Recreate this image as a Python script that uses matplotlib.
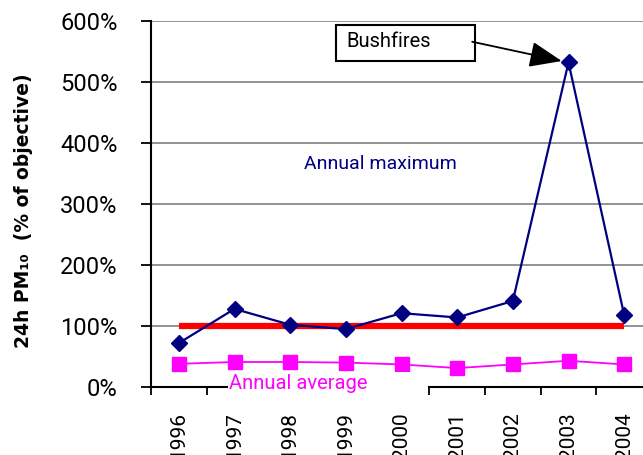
import matplotlib.pyplot as plt
from matplotlib.patches import Rectangle

years = ["1996", "1997", "1998", "1999", "2000", "2001", "2002", "2003", "2004"]
annual_max = [72, 128, 102, 95, 121, 114, 141, 532, 118]
annual_avg = [38, 41, 41, 40, 37, 31, 37, 43, 37]
objective = [100, 100, 100, 100, 100, 100, 100, 100, 100]
yticks = [0, 100, 200, 300, 400, 500, 600]

plt.rcParams["font.family"] = ["Roboto", "DejaVu Sans"]

fig = plt.figure(figsize=(6.43, 4.55), dpi=100)
# plot area runs past the right edge of the figure
ax = fig.add_axes([151 / 643, 68 / 455, 501 / 643, 366 / 455])

x = list(range(len(years)))

ax.plot(x, objective, color="#ff0000", linewidth=4.5, solid_capstyle="butt", zorder=3)
ax.plot(x, annual_max, color="#000080", linewidth=1.6, marker="D",
        markersize=8.5, zorder=4)
ax.plot(x, annual_avg, color="#ff00ff", linewidth=1.3, marker="s",
        markersize=9.5, zorder=4)

ax.set_xlim(-0.5, len(years) - 0.5)
ax.set_ylim(0, 600)

ax.set_yticks(yticks)
ax.set_yticklabels([f"{v}%" for v in yticks])
ax.yaxis.grid(True, color="#808080", linewidth=1.2)
ax.set_axisbelow(True)

ax.set_xticks(x)
ax.set_xticklabels(years, rotation=90)
ax.set_xticks([i - 0.5 for i in range(len(years) + 1)], minor=True)
ax.tick_params(axis="x", which="major", length=0, pad=18, labelsize=15)
ax.tick_params(axis="x", which="minor", length=6, width=1.3, direction="out")
ax.tick_params(axis="y", length=7, width=1.3, pad=17, labelsize=17)

for side in ["top", "right"]:
    ax.spines[side].set_visible(False)
ax.spines["left"].set_linewidth(1.5)
ax.spines["bottom"].set_linewidth(1.5)

# series labels
ax.text(3.63, 366, "Annual maximum", color="#000080", fontsize=14,
        ha="center", va="center")
ax.add_patch(Rectangle((0.88, -21), 3.6, 45, facecolor="white",
                       edgecolor="none", clip_on=False, zorder=5))
ax.text(0.9, -3, "Annual average", color="#ff00ff", fontsize=14.5,
        ha="left", va="baseline", zorder=6)

# bushfire callout
ax.add_patch(Rectangle((2.83, 534), 2.49, 60, facecolor="white",
                       edgecolor="black", linewidth=1.5, zorder=6))
ax.text(3.01, 566, "Bushfires", fontsize=14.5, ha="left", va="center", zorder=7)
ax.annotate("", xy=(7, 532), xytext=(5.27, 566),
            arrowprops=dict(arrowstyle="-|>,head_length=1.0,head_width=0.4",
                            color="black", lw=1.3, mutation_scale=20,
                            shrinkA=0, shrinkB=5),
            zorder=7)

fig.text(24 / 643, 0.538, "24h PM\u2081\u2080  (% of objective)",
         family="DejaVu Sans", fontweight="bold", fontsize=13.5,
         rotation=90, ha="center", va="center")

fig.savefig("out.png", dpi=100)
